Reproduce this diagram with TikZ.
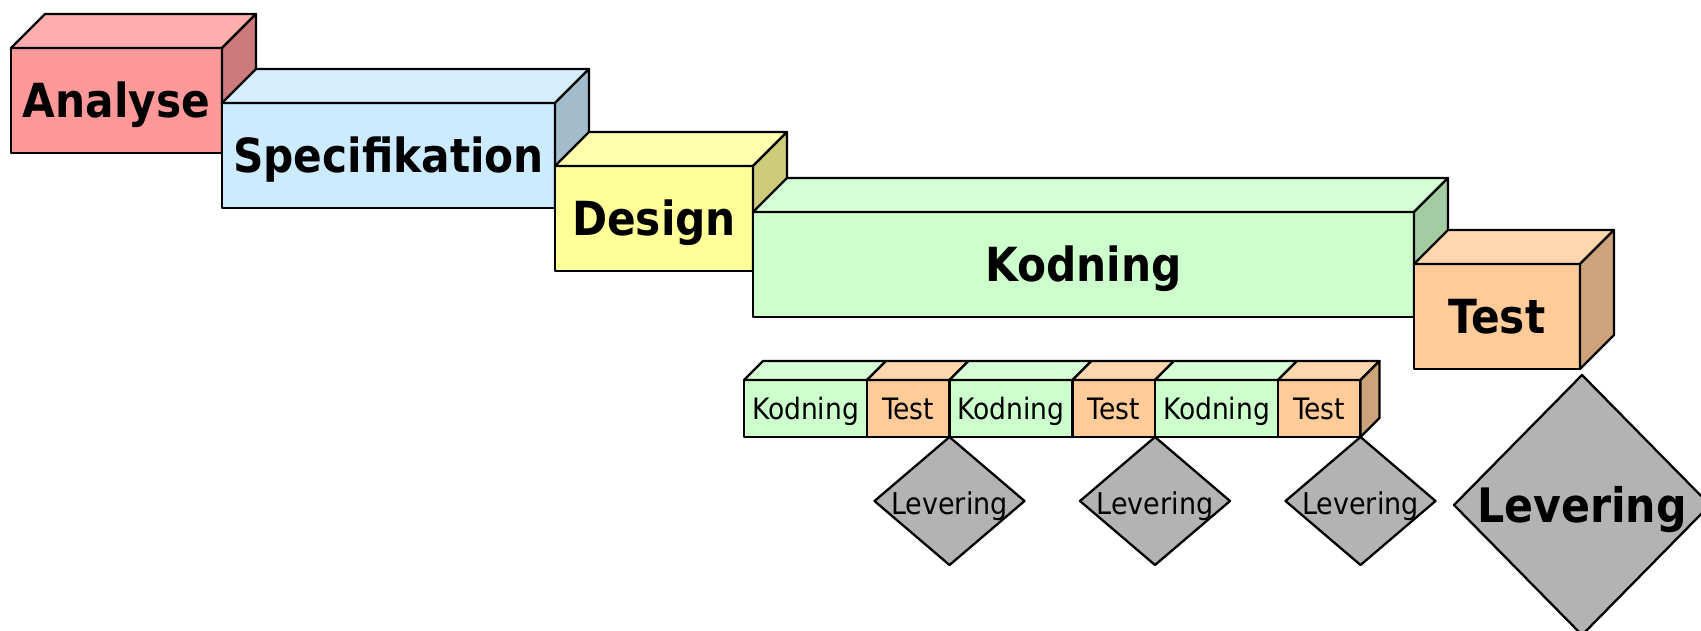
\documentclass[tikz,border=0pt]{standalone}
\usepackage{fontspec}
\setmainfont{DejaVu Sans Condensed}
\usetikzlibrary{positioning,shapes.geometric}

\definecolor{ana}{HTML}{FF9999}
\definecolor{spec}{HTML}{CCEBFF}
\definecolor{des}{HTML}{FFFF99}
\definecolor{kod}{HTML}{CCFFCC}
\definecolor{tst}{HTML}{FFCC99}
\definecolor{levgray}{HTML}{B3B3B3}

\tikzset{
    face/.style={draw, line width=2.3pt, line join=round},
    block/.style={face, inner sep=0pt, outer sep=0pt, minimum height=105pt,
        text height=34pt, text depth=0pt,
        font=\bfseries\fontsize{47}{50}\selectfont},
    cell/.style={face, inner sep=0pt, outer sep=0pt, minimum height=57pt,
        text height=21pt, text depth=0pt,
        font=\fontsize{29.5}{30}\selectfont},
    lev/.style={face, diamond, fill=levgray, inner sep=0pt, outer sep=0pt,
        aspect=1.17, minimum width=150pt, minimum height=128pt,
        text height=26pt, text depth=0pt,
        font=\fontsize{30}{30}\selectfont},
    biglev/.style={lev, aspect=0.985, minimum width=256pt, minimum height=260pt,
        text height=34.5pt, font=\bfseries\fontsize{47.5}{50}\selectfont}
}

% top and side of a box drawn from its front node
\newcommand\topface[3]{\draw[face, fill=#2!80!white] (#1.north west) -- ++(#3,-#3)
    -- ([shift={(#3,-#3)}]#1.north east) -- (#1.north east) -- cycle;}
\newcommand\sideface[3]{\draw[face, fill=#2!80!black] (#1.north east) -- ++(#3,-#3)
    -- ([shift={(#3,-#3)}]#1.south east) -- (#1.south east) -- cycle;}

\begin{document}
\begin{tikzpicture}[x=1pt, y=-1pt]
    \useasboundingbox (0,0) rectangle (1701,630);

    % Phases
    \foreach \nm/\x/\y/\w/\txt in {ana/116.5/100.5/211/Analyse,
        spec/388.5/155.5/333/Specifikation, des/654/218.5/198/Design,
        kod/1083.5/264.5/661/Kodning, tst/1497/316.5/166/Test}
    {
        \node[block, fill=\nm, minimum width=\w pt] (\nm) at (\x,\y) {\txt};
        \topface{\nm}{\nm}{34}
        \sideface{\nm}{\nm}{34}
    }

    % Iterations
    \node[cell, fill=kod, minimum width=123pt] (k1) at (805.5,408.5) {Kodning};
    \node[cell, fill=tst, minimum width=82.5pt, right=0pt of k1] (t1) {Test};
    \node[cell, fill=kod, minimum width=123pt, right=0pt of t1] (k2) {Kodning};
    \node[cell, fill=tst, minimum width=82.5pt, right=0pt of k2] (t2) {Test};
    \node[cell, fill=kod, minimum width=123pt, right=0pt of t2] (k3) {Kodning};
    \node[cell, fill=tst, minimum width=82.5pt, right=0pt of k3] (t3) {Test};
    \foreach \c/\col in {k1/kod, t1/tst, k2/kod, t2/tst, k3/kod, t3/tst}
        {\topface{\c}{\col}{19}}
    \sideface{t3}{tst}{19}

    % Deliveries
    \foreach \t/\l in {t1/l1, t2/l2, t3/l3}
        \node[lev, anchor=north] (\l) at (\t.south east) {Levering};
    \node[biglev, anchor=north] (lev) at ([xshift=2pt, yshift=-6pt]tst.south east) {Levering};
\end{tikzpicture}
\end{document}
